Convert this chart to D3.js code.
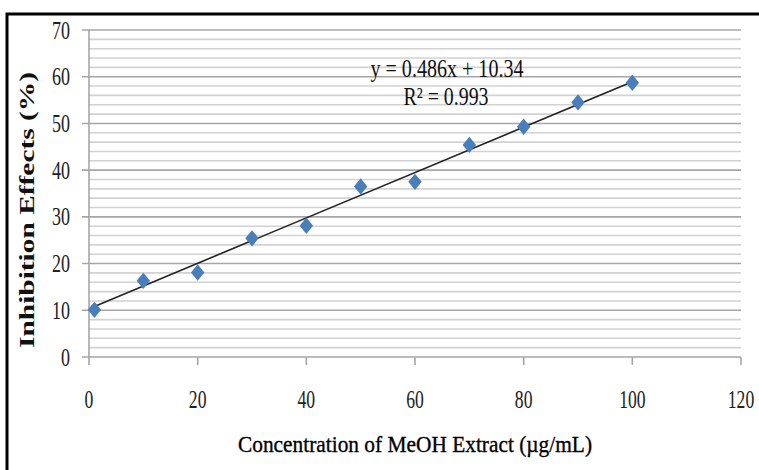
<!DOCTYPE html>
<html>
<head>
<meta charset="utf-8">
<script src="https://cdn.jsdelivr.net/npm/d3@7"></script>
<style>
  body { margin: 0; background: #fff; }
  svg { display: block; }
</style>
</head>
<body>
<svg id="chart"></svg>
<script>
// values
const concentrations = [1, 10, 20, 30, 40, 50, 60, 70, 80, 90, 100];
const inhibition = [10.1, 16.3, 18.1, 25.4, 28.1, 36.5, 37.5, 45.4, 49.3, 54.5, 58.7];
const xTicks = [0, 20, 40, 60, 80, 100, 120];
const yTicks = [0, 10, 20, 30, 40, 50, 60, 70];
const slope = 0.486, intercept = 10.34;
const eqText = "y = 0.486x + 10.34";
const r2Text = "R\u00B2 = 0.993";
const xTitle = "Concentration of MeOH Extract (\u00B5g/mL)";
const yTitle = "Inhibition Effects (%)";

let canvas = {"width": 759, "height": 470,
              "left": 89, "right": 741, "top": 30, "bottom": 357};

const svg = d3.select("#chart")
	.attr("width", canvas.width)
	.attr("height", canvas.height);

const xScale = d3.scaleLinear().domain([0, 120]).range([canvas.left, canvas.right]);
const yScale = d3.scaleLinear().domain([0, 70]).range([canvas.bottom, canvas.top]);

const serif = "'Liberation Serif', 'Times New Roman', serif";

// outer frame
svg.append("rect")
	.attr("x", 7).attr("y", 14)
	.attr("width", 800).attr("height", 500)
	.attr("fill", "none")
	.attr("stroke", "#000")
	.attr("stroke-width", 3);

// minor gridlines every 2
let minor = d3.range(2, 71, 2).filter(v => v % 10 != 0);
svg.selectAll(".minor")
	.data(minor)
	.join("line")
	.attr("class", "minor")
	.attr("x1", canvas.left).attr("x2", canvas.right)
	.attr("y1", d => yScale(d)).attr("y2", d => yScale(d))
	.attr("stroke", "#d2d2d2")
	.attr("stroke-width", 1.6);

// major gridlines + left ticks
svg.selectAll(".major")
	.data(yTicks)
	.join("line")
	.attr("class", "major")
	.attr("x1", canvas.left - 7).attr("x2", canvas.right)
	.attr("y1", d => yScale(d)).attr("y2", d => yScale(d))
	.attr("stroke", "#a6a6a6")
	.attr("stroke-width", 1.6);

// y axis line
svg.append("line")
	.attr("x1", canvas.left).attr("x2", canvas.left)
	.attr("y1", canvas.top).attr("y2", canvas.bottom)
	.attr("stroke", "#a6a6a6")
	.attr("stroke-width", 1.6);

// x ticks
svg.selectAll(".xtick")
	.data(xTicks)
	.join("line")
	.attr("class", "xtick")
	.attr("x1", d => xScale(d)).attr("x2", d => xScale(d))
	.attr("y1", canvas.bottom).attr("y2", canvas.bottom + 8)
	.attr("stroke", "#a6a6a6")
	.attr("stroke-width", 1.6);

// tick labels
svg.selectAll(".ylab")
	.data(yTicks)
	.join("text")
	.attr("class", "ylab")
	.text(d => d)
	.attr("x", 70)
	.attr("y", d => yScale(d) + 8.5)
	.attr("text-anchor", "end")
	.attr("font-family", serif)
	.attr("font-size", 25)
	.attr("fill", "#222")
	.attr("textLength", d => String(d).length * 9)
	.attr("lengthAdjust", "spacingAndGlyphs");

svg.selectAll(".xlab")
	.data(xTicks)
	.join("text")
	.attr("class", "xlab")
	.text(d => d)
	.attr("x", d => xScale(d))
	.attr("y", 408)
	.attr("text-anchor", "middle")
	.attr("font-family", serif)
	.attr("font-size", 25)
	.attr("fill", "#222")
	.attr("textLength", d => String(d).length * 8.8)
	.attr("lengthAdjust", "spacingAndGlyphs");

// trendline
svg.append("line")
	.attr("x1", xScale(concentrations[0]))
	.attr("y1", yScale(slope * concentrations[0] + intercept))
	.attr("x2", xScale(concentrations.at(-1)))
	.attr("y2", yScale(slope * concentrations.at(-1) + intercept))
	.attr("stroke", "#222")
	.attr("stroke-width", 1.6);

// points
const diamond = d3.symbol().type(d3.symbolDiamond2).size(115);
svg.selectAll(".pt")
	.data(concentrations)
	.join("path")
	.attr("class", "pt")
	.attr("d", diamond)
	.attr("transform", (d, i) => `translate(${xScale(d)},${yScale(inhibition[i])}) scale(1,1.22)`)
	.attr("fill", "#4a7ebb");

// equation
svg.append("text")
	.text(eqText)
	.attr("x", 447).attr("y", 77)
	.attr("text-anchor", "middle")
	.attr("font-family", serif)
	.attr("font-size", 25)
	.attr("fill", "#111")
	.attr("textLength", 153)
	.attr("lengthAdjust", "spacingAndGlyphs");

svg.append("text")
	.text(r2Text)
	.attr("x", 446).attr("y", 105)
	.attr("text-anchor", "middle")
	.attr("font-family", serif)
	.attr("font-size", 25)
	.attr("fill", "#111")
	.attr("textLength", 85)
	.attr("lengthAdjust", "spacingAndGlyphs");

// axis titles
svg.append("text")
	.text(xTitle)
	.attr("x", (canvas.left + canvas.right) / 2).attr("y", 452)
	.attr("text-anchor", "middle")
	.attr("font-family", serif)
	.attr("font-size", 24)
	.attr("fill", "#000")
	.attr("stroke", "#000")
	.attr("stroke-width", 0.35)
	.attr("textLength", 354)
	.attr("lengthAdjust", "spacingAndGlyphs");

svg.append("text")
	.text(yTitle)
	.attr("transform", `translate(34, 210) rotate(-90)`)
	.attr("text-anchor", "middle")
	.attr("font-family", serif)
	.attr("font-weight", "bold")
	.attr("font-size", 21)
	.attr("fill", "#111")
	.attr("textLength", 276)
	.attr("lengthAdjust", "spacingAndGlyphs");
</script>
</body>
</html>
